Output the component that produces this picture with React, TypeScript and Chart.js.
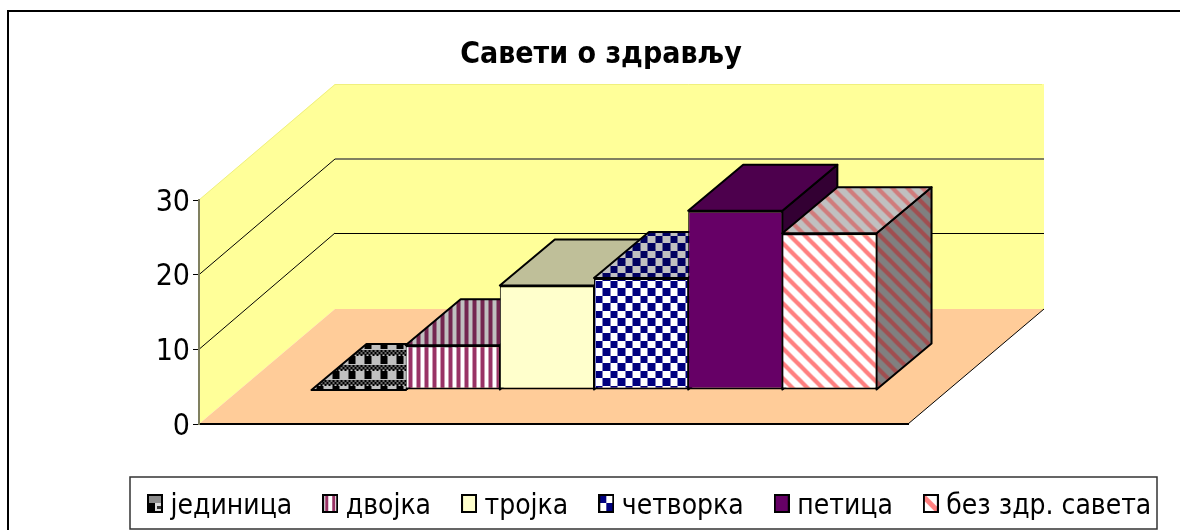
import React, { useEffect, useRef } from "react";
import { Chart, registerables } from "chart.js";

Chart.register(...registerables);

const categories = [""];
const seriesNames = ["јединица", "двојка", "тројка", "четворка", "петица", "без здр. савета"];
const seriesValues = [0, 6, 14, 15, 24, 21];
const chartTitle = "Савети о здрављу";
const FONT = "'DejaVu Sans Condensed', 'DejaVu Sans', sans-serif";

// projection of the 3D box
const WALL_DX = 136;
const WALL_DY = -116;
const BAR_SHIFT_X = 40.5;
const BAR_SHIFT_Y = -34;
const BAR_DEPTH_X = 55;
const BAR_DEPTH_Y = -46;

type Draw = (c: CanvasRenderingContext2D) => void;
function canvasTile(w: number, h: number, draw: Draw) {
  const cv = document.createElement("canvas");
  cv.width = w;
  cv.height = h;
  draw(cv.getContext("2d")!);
  return cv;
}
function pattern(w: number, h: number, draw: Draw) {
  const cv = canvasTile(w, h, draw);
  return cv.getContext("2d")!.createPattern(cv, "repeat")!;
}
const spheres = (bg: string, fg: string) =>
  pattern(16, 15, (c) => {
    c.fillStyle = bg;
    c.fillRect(0, 0, 16, 15);
    c.fillStyle = fg;
    c.fillRect(4, 0, 7, 8);
    c.fillStyle = "#6a6a6a";
    c.fillRect(0, 9, 16, 5);
    c.fillStyle = fg;
    for (let y = 9; y < 14; y += 2)
      for (let x = y % 4 === 1 ? 0 : 2; x < 16; x += 4) c.fillRect(x, y, 2, 2);
  });
const vstripes = (bg: string, fg: string) =>
  pattern(8, 8, (c) => {
    c.fillStyle = bg;
    c.fillRect(0, 0, 8, 8);
    c.fillStyle = fg;
    c.fillRect(0, 0, 4, 8);
  });
const checker = (bg: string, fg: string) =>
  pattern(15, 15, (c) => {
    c.fillStyle = bg;
    c.fillRect(0, 0, 15, 15);
    c.fillStyle = fg;
    c.fillRect(0, 0, 7, 7);
    c.fillRect(7, 7, 8, 8);
  });
const diagonal = (bg: string, fg: string) =>
  pattern(15, 15, (c) => {
    c.fillStyle = bg;
    c.fillRect(0, 0, 15, 15);
    c.strokeStyle = fg;
    c.lineWidth = 4.2;
    for (const k of [-15, 0, 15]) {
      c.beginPath();
      c.moveTo(-5, -5 + k);
      c.lineTo(20, 20 + k);
      c.stroke();
    }
  });

function swatch(i: number) {
  // taller than the visible box so the box sits a little above the text's centre
  return canvasTile(16, 26, (c) => {
    c.beginPath();
    c.rect(0, 0, 16, 19);
    c.clip();
    c.fillStyle = "#fff";
    c.fillRect(0, 0, 16, 19);
    if (i === 0) {
      c.fillStyle = "#000";
      c.fillRect(0, 9, 8, 10);
      c.fillStyle = "#8c8c8c";
      c.fillRect(0, 0, 16, 9);
      c.fillStyle = "#ddd";
      c.fillRect(8, 9, 8, 10);
      c.fillStyle = "#333";
      c.fillRect(10, 12, 4, 3);
    } else if (i === 1) {
      c.fillStyle = "#993366";
      c.fillRect(3, 0, 3, 19);
      c.fillRect(10, 0, 3, 19);
    } else if (i === 2) {
      c.fillStyle = "#ffffcc";
      c.fillRect(0, 0, 16, 19);
    } else if (i === 3) {
      c.fillStyle = "#000080";
      c.fillRect(0, 0, 8, 9);
      c.fillRect(8, 9, 8, 10);
    } else if (i === 4) {
      c.fillStyle = "#660066";
      c.fillRect(0, 0, 16, 19);
    } else {
      c.strokeStyle = "#ff8080";
      c.lineWidth = 5;
      c.beginPath();
      c.moveTo(-2, 0);
      c.lineTo(17, 19);
      c.stroke();
    }
    c.strokeStyle = "#000";
    c.lineWidth = 2;
    c.strokeRect(1, 1, 14, 17);
  });
}

const poly = (c: CanvasRenderingContext2D, pts: number[][], fill?: any, stroke?: string, lw = 2) => {
  c.beginPath();
  pts.forEach((p, i) => (i ? c.lineTo(p[0], p[1]) : c.moveTo(p[0], p[1])));
  c.closePath();
  if (fill) {
    c.fillStyle = fill;
    c.fill();
  }
  if (stroke) {
    c.strokeStyle = stroke;
    c.lineWidth = lw;
    c.lineJoin = "round";
    c.stroke();
  }
};

export default function App() {
  const ref = useRef<HTMLCanvasElement>(null);
  useEffect(() => {
    const fronts: any[] = [
      spheres("#ffffff", "#000000"),
      vstripes("#ffffff", "#993366"),
      "#ffffcc",
      checker("#ffffff", "#000080"),
      "#660066",
      diagonal("#ffffff", "#ff8080"),
    ];
    const tops: any[] = [
      spheres("#c0c0c0", "#000000"),
      vstripes("#c0c0c0", "#732650"),
      "#bfbf99",
      checker("#c0c0c0", "#000060"),
      "#4d004d",
      diagonal("#c0c0c0", "#d07c7c"),
    ];
    const sides: any[] = [
      spheres("#808080", "#000000"),
      vstripes("#808080", "#4d1a33"),
      "#808066",
      checker("#808080", "#000040"),
      "#330033",
      diagonal("#808080", "#a04e50"),
    ];
    const swatches = seriesNames.map((_, i) => swatch(i));

    const scene = {
      id: "scene",
      beforeDraw(chart: any) {
        const c = chart.ctx;
        const { left, right, bottom, top } = chart.chartArea;
        c.save();
        c.fillStyle = "#fff";
        c.fillRect(0, 0, chart.width, chart.height);
        // outer frame
        c.strokeStyle = "#000";
        c.lineWidth = 2;
        c.beginPath();
        c.moveTo(8, 540);
        c.lineTo(8, 11);
        c.lineTo(1190, 11);
        c.stroke();
        // walls and floor
        const backBottom = bottom + WALL_DY + 1;
        poly(c, [[left, bottom], [left, top], [left + WALL_DX, top + WALL_DY], [right + WALL_DX, top + WALL_DY], [right + WALL_DX, backBottom], [left + WALL_DX, backBottom]], "#ffff99");
        c.strokeStyle = "#f0f07e";
        c.lineWidth = 1;
        c.beginPath();
        c.moveTo(left, top);
        c.lineTo(left + WALL_DX, top + WALL_DY + 0.5);
        c.lineTo(right + WALL_DX - 2, top + WALL_DY + 0.5);
        c.stroke();
        poly(c, [[left, bottom], [left + WALL_DX, backBottom], [right + WALL_DX, backBottom], [right, bottom]], "#ffcc99");
        c.strokeStyle = "#000";
        c.lineWidth = 1;
        c.beginPath();
        c.moveTo(right, bottom);
        c.lineTo(right + WALL_DX, backBottom);
        c.stroke();
        // grid lines following the walls
        const y = chart.scales.y;
        y.ticks.forEach((t: any) => {
          if (t.value === 0 || t.value === y.max) return;
          const py = y.getPixelForValue(t.value);
          const by = Math.round(py + WALL_DY);
          c.strokeStyle = "#000";
          c.lineWidth = 1;
          c.beginPath();
          c.moveTo(left, py);
          c.lineTo(left + WALL_DX, by);
          c.stroke();
          const heavy = t.value === 20;
          c.strokeStyle = heavy ? "#808060" : "#000";
          c.lineWidth = heavy ? 2 : 1;
          c.beginPath();
          c.moveTo(left + WALL_DX, by + (heavy ? 0 : 0.5));
          c.lineTo(right + WALL_DX, by + (heavy ? 0 : 0.5));
          c.stroke();
        });
        // legend frame
        c.fillStyle = "#fff";
        c.fillRect(130, 477, 1027, 52);
        c.strokeStyle = "#333";
        c.lineWidth = 1.5;
        c.strokeRect(130, 477, 1027, 52);
        c.restore();
      },
      afterLayout(chart: any) {
        const l = chart.legend;
        l.left = 117;
        l.right = 1400;
        l.top = 456.5;
        l.bottom = 529;
        const t = chart.titleBlock;
        t.left = 22;
        t.right = 1180;
      },
      beforeDatasetDraw() {
        return false;
      },
      beforeDatasetsDraw(chart: any) {
        const c = chart.ctx;
        c.save();
        c.translate(BAR_SHIFT_X, BAR_SHIFT_Y);
        seriesValues.forEach((_, i) => {
          const meta = chart.getDatasetMeta(i);
          const bar = meta.data[0];
          const l = bar.x - bar.width / 2;
          const r = bar.x + bar.width / 2;
          const t = bar.y;
          const b = bar.base;
          poly(c, [[r, t], [r + BAR_DEPTH_X, t + BAR_DEPTH_Y], [r + BAR_DEPTH_X, b + BAR_DEPTH_Y], [r, b]], sides[i], "#000");
          poly(c, [[l, t], [l + BAR_DEPTH_X, t + BAR_DEPTH_Y], [r + BAR_DEPTH_X, t + BAR_DEPTH_Y], [r, t]], tops[i], "#000");
          meta.controller.draw();
        });
        c.restore();
      },
    };

    const chart = new Chart(ref.current!, {
      type: "bar",
      data: {
        labels: categories,
        datasets: seriesNames.map((name, i) => ({
          label: name,
          data: [seriesValues[i]],
          backgroundColor: fronts[i],
          borderColor: "#000",
          borderWidth: { top: 2, right: 1, bottom: 2, left: 1 },
          borderSkipped: false,
          inflateAmount: 0,
        })),
      },
      options: {
        responsive: false,
        animation: false,
        devicePixelRatio: 1,
        categoryPercentage: 0.797,
        barPercentage: 1,
        layout: { padding: { left: 0, right: 0, top: 0, bottom: 31.5 } },
        scales: {
          x: {
            grid: { display: false, drawTicks: false },
            border: { display: true, color: "#000", width: 2 },
            ticks: { display: false },
            afterFit(s: any) {
              s.height = 0;
            },
          },
          y: {
            min: 0,
            max: 30,
            ticks: { stepSize: 10, color: "#000", font: { family: FONT, size: 30 }, padding: 3, labelOffset: 3 },
            grid: { drawOnChartArea: false, color: "#000", tickLength: 6, tickColor: "#000" },
            border: { color: "#808060", width: 2 },
            afterFit(s: any) {
              s.width = 199;
            },
          },
          rightSpace: {
            type: "linear",
            position: "right",
            grid: { display: false },
            border: { display: false },
            ticks: { display: false },
            afterFit(s: any) {
              s.width = 272;
            },
          },
        },
        plugins: {
          title: {
            display: true,
            text: chartTitle,
            color: "#000",
            font: { family: FONT, size: 30, weight: "bold" },
            padding: { top: 37, bottom: 127 },
          },
          legend: {
            position: "bottom",
            align: "start",
            labels: {
              usePointStyle: true,
              boxWidth: 3,
              boxHeight: 17,
              padding: 36.5,
              color: "#000",
              font: { family: FONT, size: 28 },
              generateLabels: () =>
                seriesNames.map((name, i) => ({
                  text: name,
                  fillStyle: "#000",
                  strokeStyle: "#000",
                  lineWidth: 1,
                  pointStyle: swatches[i],
                  hidden: false,
                  datasetIndex: i,
                  fontColor: "#000",
                })),
            },
          },
          tooltip: { enabled: false },
        },
      } as any,
      plugins: [scene as any],
    });
    return () => chart.destroy();
  }, []);
  return (
    <div style={{ position: "fixed", left: 0, top: 0, width: 1180, height: 530, background: "#fff", overflow: "hidden" }}>
      <canvas ref={ref} width={1180} height={530} style={{ display: "block" }} />
    </div>
  );
}
